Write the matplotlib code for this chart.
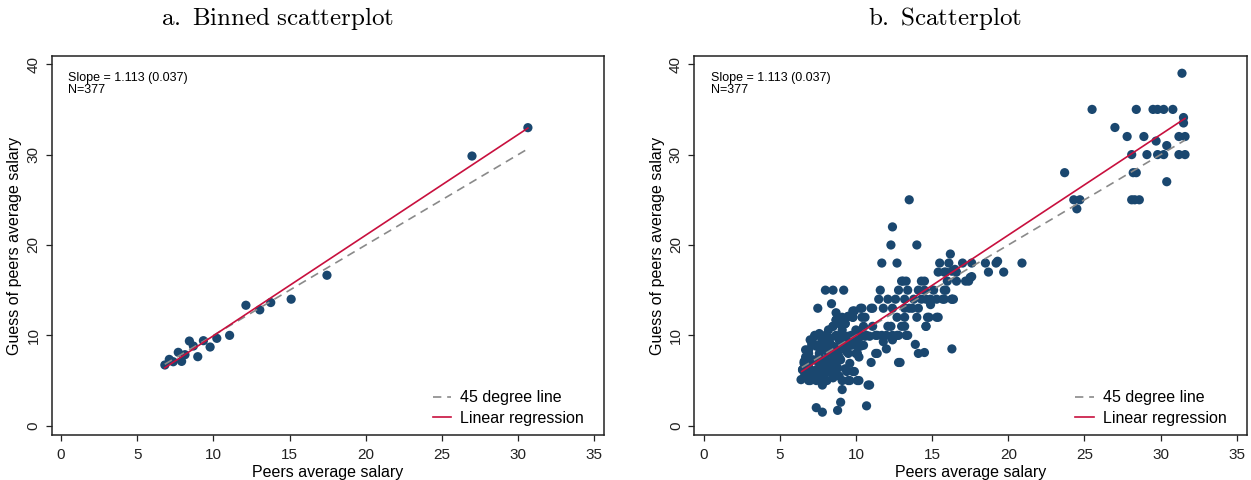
import matplotlib
matplotlib.use('Agg')
import matplotlib.pyplot as plt
import numpy as np

plt.rcParams['font.family'] = ['Liberation Sans', 'DejaVu Sans']
plt.rcParams['mathtext.fontset'] = 'cm'

# binned means (20 bins)
bin_x = [6.81, 7.10, 7.36, 7.69, 7.91, 8.13, 8.42, 8.68, 8.97, 9.34,
         9.78, 10.22, 11.06, 12.13, 13.04, 13.76, 15.10, 17.45, 26.97, 30.64]
bin_y = [6.72, 7.34, 7.08, 8.12, 7.12, 7.86, 9.37, 8.82, 7.64, 9.41,
         8.71, 9.67, 10.00, 13.33, 12.82, 13.63, 14.00, 16.65, 29.84, 32.98]

# individual answers
pts_x = [
    # top group
    31.4, 25.5, 28.4, 29.5, 29.8, 30.2, 30.8, 31.5, 31.5, 27.0, 27.8, 28.9, 29.7, 31.2, 31.6, 30.4,
    28.1, 29.1, 29.8, 30.2, 31.2, 31.6, 30.4, 28.2, 28.4, 28.1, 28.3, 28.6, 23.7, 24.3, 24.7, 24.5,
    # middle
    13.5, 12.4, 12.3, 14.0, 11.7, 12.7, 15.5, 16.1, 17.0, 17.6, 16.2, 18.5, 19.2, 19.3, 20.9, 18.7,
    19.7, 15.8, 16.5, 16.6, 17.4, 17.6, 13.1, 13.3, 14.5, 16.0, 16.6,
    8.0, 8.5, 9.2, 11.6, 12.8, 13.4, 14.1, 14.5, 15.1, 15.9,
    11.5, 12.1, 12.6, 13.2, 13.8, 14.6, 15.3, 15.8, 16.4, 14.9, 16.3,
    7.5, 8.4, 9.9, 10.4, 11.1, 11.8, 12.4, 13.2, 13.7, 14.1, 14.9, 10.3, 11.0, 13.5,
    8.7, 9.1, 9.8, 10.6, 12.7, 13.2, 14.0, 14.8, 15.4, 9.8, 10.4, 14.7, 15.3, 9.5,
    10.5, 11.1, 12.3, 13.2, 14.6, 8.5, 9.0, 12.1, 13.0, 14.6, 9.3, 8.7,
    7.3, 8.1, 8.7, 9.2, 9.7, 10.1, 10.7, 11.3, 12.0, 12.7, 13.4, 11.4, 11.7, 12.4, 12.8, 13.3,
    15.4, 15.9, 16.3, 17.2, 17.5, 15.8, 16.3, 15.7, 14.3, 13.0, 14.3,
    # lower
    11.8, 12.4, 7.1, 7.7, 8.3, 9.0, 9.6, 10.1, 13.9, 12.0, 14.1, 14.5, 16.3, 11.4, 6.9, 7.6,
    8.3, 8.8, 9.4, 10.1, 6.6, 7.2, 7.8, 8.4, 9.0, 9.6, 11.0, 12.9, 6.5, 7.1, 7.7, 8.3,
    8.8, 9.4, 9.9, 6.4, 7.0, 7.4, 8.0, 8.5, 9.1, 9.6, 10.2, 7.8, 10.9, 9.1, 9.0, 8.8,
    7.4, 7.8, 10.7, 12.8, 11.3, 10.8, 9.5, 10.1, 8.7, 8.9, 9.3, 9.8, 6.9, 8.1,
    # dense core
    6.6, 6.7, 6.9, 7.2, 7.3, 7.6, 7.8, 8.0, 8.2, 8.5, 8.7, 8.9, 9.1, 9.3, 9.5, 9.8,
    10.0, 10.2, 10.0, 10.4, 10.6, 10.9, 8.5, 8.2, 8.0, 7.8, 7.6, 7.4, 7.2, 6.9, 6.7, 7.6,
    7.8, 8.2, 8.7, 8.9, 9.3, 9.5, 10.0, 10.2, 9.1, 9.3, 9.5, 9.8, 8.7,
    6.5, 6.6, 6.9, 7.4, 7.8, 8.0, 8.2, 8.5, 8.7, 6.7, 7.0, 7.4, 7.7, 8.0, 8.3, 6.8,
    7.5, 7.7, 8.1, 8.6, 9.0, 9.2, 9.7, 9.9, 10.3, 10.5,
]
pts_y = [
    39.0, 35.0, 35.0, 35.0, 35.0, 35.0, 35.0, 34.1, 33.5, 33.0, 32.0, 32.0, 31.5, 32.0, 32.0, 31.0,
    30.0, 30.0, 30.0, 30.0, 30.0, 30.0, 27.0, 28.0, 28.0, 25.0, 25.0, 25.0, 28.0, 25.0, 25.0, 24.0,
    25.0, 22.0, 20.0, 20.0, 18.0, 18.0, 18.0, 18.0, 18.0, 18.0, 19.0, 18.0, 18.0, 18.2, 18.0, 17.0,
    17.0, 17.0, 17.3, 17.0, 16.0, 16.5, 16.0, 16.0, 16.0, 16.0, 16.0,
    15.0, 15.0, 15.0, 15.0, 15.0, 15.0, 15.0, 15.0, 15.0, 15.0,
    14.0, 14.0, 14.0, 14.0, 14.0, 14.0, 14.0, 14.0, 14.0, 14.0, 14.0,
    13.0, 13.5, 12.7, 13.0, 13.0, 13.0, 13.0, 13.0, 13.0, 13.0, 13.4, 13.0, 13.0, 13.0,
    12.5, 12.0, 12.0, 12.0, 12.0, 12.0, 12.0, 12.0, 12.0, 12.7, 12.0, 12.0, 12.0, 12.1,
    11.0, 11.0, 11.0, 11.0, 11.0, 11.0, 11.2, 11.0, 11.0, 11.0, 11.3, 11.7,
    10.0, 10.0, 10.0, 10.0, 10.0, 10.0, 10.0, 10.0, 10.0, 10.0, 10.0, 10.0, 10.0, 10.0, 10.0, 10.0,
    17.0, 17.0, 17.1, 16.0, 16.4, 15.0, 14.0, 14.0, 14.0, 16.0, 16.0,
    9.3, 9.5, 9.0, 9.1, 9.1, 9.1, 9.1, 8.8, 9.0, 8.5, 8.0, 8.1, 8.5, 8.0, 8.0, 8.0,
    8.2, 8.0, 8.2, 8.0, 7.1, 7.3, 7.1, 7.1, 7.3, 6.9, 7.0, 7.0, 6.2, 6.0, 6.0, 6.0,
    6.4, 6.0, 6.0, 5.1, 5.0, 5.0, 5.0, 5.3, 5.0, 5.0, 5.0, 4.5, 4.5, 4.0, 2.6, 1.7,
    2.0, 1.5, 2.2, 7.0, 8.0, 4.5, 5.0, 5.0, 6.0, 5.5, 6.3, 6.0, 5.0, 5.0,
    6.9, 7.6, 8.4, 9.1, 9.9, 10.2, 9.5, 10.0, 10.6, 11.0, 9.9, 9.5, 10.0, 9.5, 9.9, 9.5,
    9.1, 9.7, 10.6, 10.6, 9.9, 9.9, 8.8, 8.0, 7.3, 6.5, 6.0, 6.2, 5.8, 6.5, 6.2, 7.6,
    8.4, 9.1, 8.4, 7.6, 8.4, 8.0, 8.0, 7.6, 10.6, 11.3, 12.1, 12.0, 11.7,
    6.2, 5.4, 5.4, 5.4, 5.4, 5.8, 6.5, 6.9, 6.9, 8.4, 9.5, 8.8, 8.9, 8.8, 9.7, 7.1,
    7.1, 6.9, 6.0, 7.6, 8.8, 8.9, 8.9, 10.0, 8.8, 8.9,
]

slope, intercept = 1.113, -1.17
note = 'Slope = 1.113 (0.037)\nN=377'
line_a = (6.8, 30.64)
line_b = (6.45, 31.6)

navy = '#1a476f'
red = '#c8103e'

fig = plt.figure(figsize=(12.51, 4.8), dpi=100)
ax1 = fig.add_axes([0.0413, 0.0931, 0.4417, 0.791])
ax2 = fig.add_axes([0.5548, 0.0931, 0.4418, 0.791])


def draw(ax, x, y, span):
    ax.scatter(x, y, s=44, color=navy, edgecolors='none', zorder=3)
    xs = np.array(span)
    ax.plot(xs, xs, color='#8a8a8a', ls=(0, (5, 3.5)), lw=1.2,
            label='45 degree line', zorder=4)
    ax.plot(xs, intercept + slope * xs, color=red, lw=1.2,
            label='Linear regression', zorder=5)
    ax.set_xlim(-0.62, 35.65)
    ax.set_ylim(-1.06, 40.95)
    ax.set_xticks(range(0, 36, 5))
    ax.set_yticks(range(0, 41, 10))
    ax.tick_params(direction='out', length=4, width=0.9, labelsize=11, colors='#222222')
    ax.tick_params(axis='x', pad=5)
    ax.tick_params(axis='y', pad=4)
    for lab in ax.get_yticklabels():
        lab.set_rotation(90)
        lab.set_va('center')
    for sp in ax.spines.values():
        sp.set_color('#222222')
        sp.set_linewidth(1.1)
    ax.set_xlabel('Peers average salary', fontsize=11.5, labelpad=2)
    ax.set_ylabel('Guess of peers average salary', fontsize=11.5, labelpad=3)
    ax.text(0.03, 0.958, note, transform=ax.transAxes, fontsize=9,
            va='top', ha='left', linespacing=1.1)
    ax.legend(loc='lower left', bbox_to_anchor=(0.69, 0.025), frameon=False,
              fontsize=11.5, handlelength=1.15, handletextpad=0.55,
              labelspacing=0.35, borderpad=0, borderaxespad=0)


draw(ax1, bin_x, bin_y, line_a)
draw(ax2, pts_x, pts_y, line_b)

fig.text(0.222, 0.962, r'$\mathrm{a.\ Binned\ scatterplot}$', fontsize=18,
         ha='center', va='center')
fig.text(0.755, 0.962, r'$\mathrm{b.\ Scatterplot}$', fontsize=18,
         ha='center', va='center')

fig.savefig('out.png', dpi=100)
